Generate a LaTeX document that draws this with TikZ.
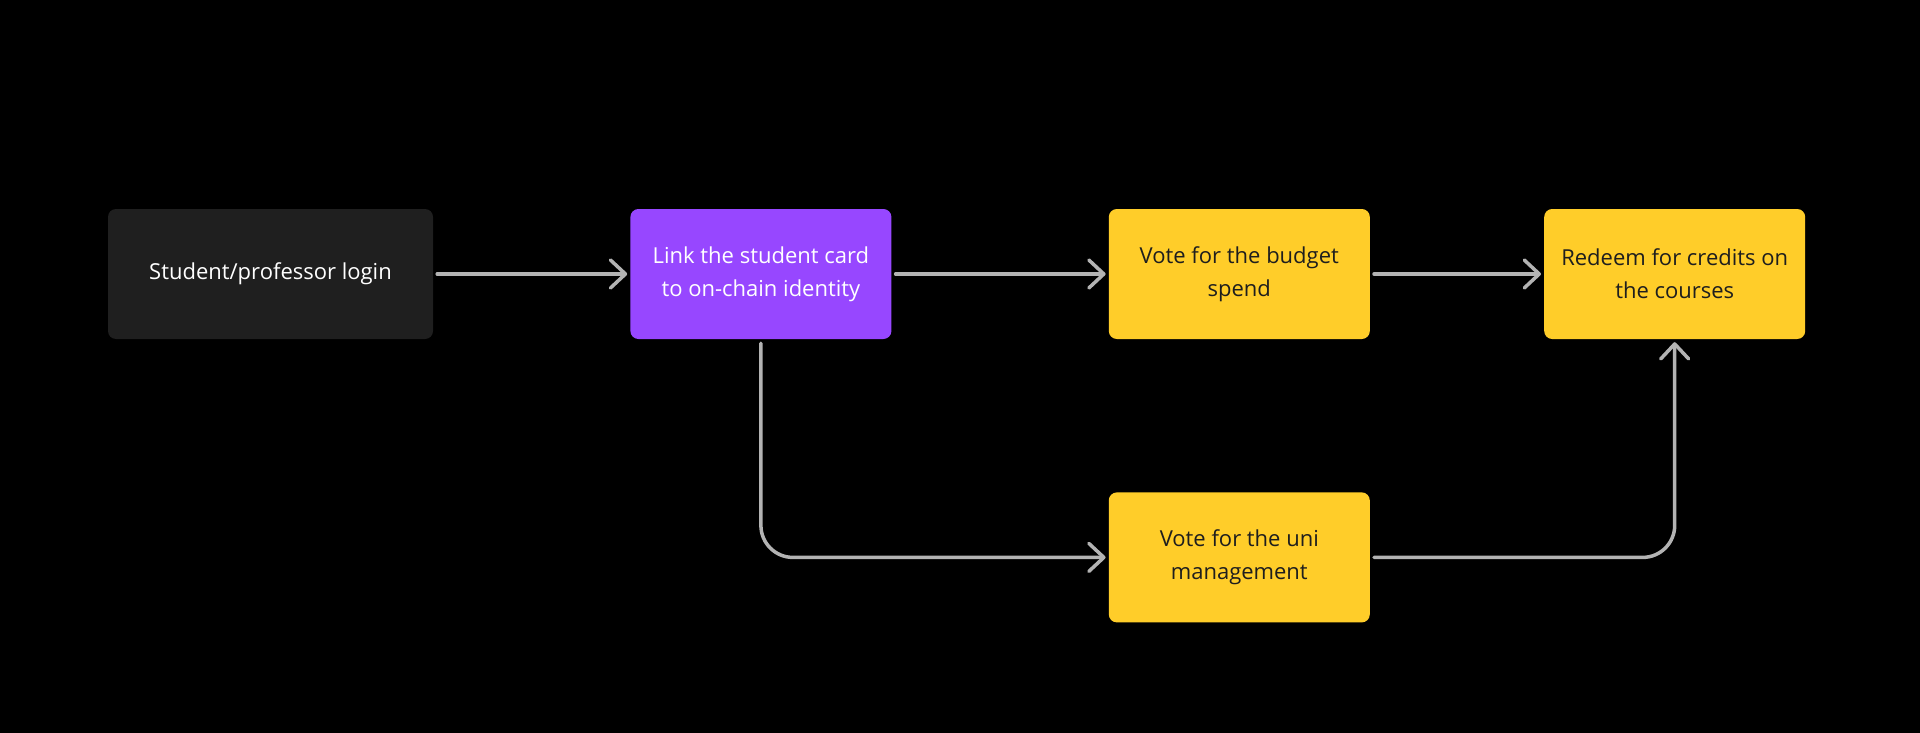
\documentclass[tikz,border=0pt]{standalone}
\usepackage{fontspec}
\setmainfont{Open Sans}
\usetikzlibrary{arrows.meta,positioning}
\definecolor{bgdark}{HTML}{000000}
\definecolor{boxdark}{HTML}{1F1F1F}
\definecolor{figpurple}{HTML}{9747FF}
\definecolor{figyellow}{HTML}{FFCD29}
\definecolor{inkdark}{HTML}{1E1E1E}
\definecolor{wire}{HTML}{B3B3B3}
\tikzset{every picture/.style={
  >={Straight Barb[length=15pt,width=28pt,line cap=round,line join=round]} % open chevron tips.
  }
}

\begin{document}
\begin{tikzpicture}[
    x=1pt, y=-1pt,
    node distance=0pt,
    bx/.style={
      rounded corners=8pt,
      minimum height=130pt,
      align=center,
      inner sep=0pt,
      font=\fontsize{22}{33}\selectfont
    },
    blk/.style={bx, fill=boxdark, text=white, minimum width=325pt},
    pur/.style={bx, fill=figpurple, text=white, minimum width=261pt},
    yel/.style={bx, fill=figyellow, text=inkdark, minimum width=261pt},
    flow/.style={
      ->,
      draw=wire,
      line width=3.5pt,
      line cap=round,
      rounded corners=32pt,
      shorten <=4pt,
      shorten >=3pt
    }]

    % Background and page size.
    \fill[bgdark] (0,0) rectangle (1920,733);
    \useasboundingbox (0,0) rectangle (1920,733);

    % The main row.
    \node[blk] (login) at (270.5,274) {Student/professor login};
    \node[pur,right=197pt of login] (link)
      {Link the student card\\to on-chain identity};
    \node[yel,right=217pt of link] (budget)
      {Vote for the budget\\spend};
    \node[yel,right=174pt of budget] (redeem)
      {Redeem for credits on\\the courses};

    % The lower branch.
    \node[yel,below=153pt of budget] (uni)
      {Vote for the uni\\management};

    % Connectors.
    \draw[flow] (login.east) -- (link.west);
    \draw[flow] (link.east) -- (budget.west);
    \draw[flow] (budget.east) -- (redeem.west);
    \draw[flow] (link.south) |- (uni.west);
    \draw[flow] (uni.east) -| (redeem.south);

  \end{tikzpicture}
\end{document}
